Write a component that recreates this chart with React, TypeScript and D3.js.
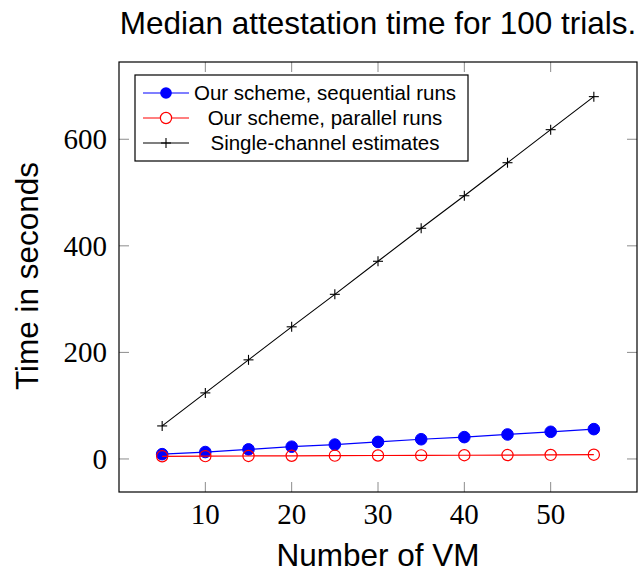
import React from "react";
import * as d3 from "d3";

const vms = [5, 10, 15, 20, 25, 30, 35, 40, 45, 50, 55];
const sequential = [9, 13, 18, 23, 27, 32, 37, 41, 46, 51, 56];
const parallel = [5, 5.3, 5.6, 5.9, 6.2, 6.5, 6.8, 7, 7.3, 7.6, 8];
const singleChannel = [62, 124, 186, 248, 309, 371, 433, 494, 556, 618, 680];
const xTicks = [10, 20, 30, 40, 50];
const yTicks = [0, 200, 400, 600];
const legendLabels = [
  "Our scheme, sequential runs",
  "Our scheme, parallel runs",
  "Single-channel estimates",
];
const title = "Median attestation time for 100 trials.";
const xLabel = "Number of VM";
const yLabel = "Time in seconds";

const W = 639;
const H = 574;
const L = 119, R = 637, T = 62, B = 492;

export default function App() {
  const x = d3.scaleLinear().domain([0, 60]).range([L, R]);
  const y = d3.scaleLinear().domain([-62, 745]).range([B, T]);
  const line = (vals: number[]) =>
    d3.line<number>().x((_, i) => x(vms[i])).y((v) => y(v))(vals) || "";

  const sans = "'Liberation Sans', Arial, Helvetica, sans-serif";
  const serif = "'Liberation Serif', 'Times New Roman', serif";
  const tickLen = 10;

  const plus = (cx: number, cy: number, k: string) => (
    <g key={k} stroke="black" strokeWidth={1.1}>
      <line x1={cx - 5} x2={cx + 5} y1={cy} y2={cy} />
      <line x1={cx} x2={cx} y1={cy - 5} y2={cy + 5} />
    </g>
  );

  const legendRows = [93, 118, 143];
  const lx1 = 143, lx2 = 189, lm = 166, textCx = 325;

  return (
    <svg width={W} height={H} style={{ position: "absolute", left: 0, top: 0, background: "white" }}>
      <rect x={0} y={0} width={W} height={H} fill="white" />
      <text x={(L + R) / 2} y={34} textAnchor="middle" fontFamily={sans} fontSize={31.5} fill="black">
        {title}
      </text>

      {/* ticks */}
      <g stroke="#8c8c8c" strokeWidth={1}>
        {xTicks.map((t) => (
          <g key={"xt" + t}>
            <line x1={x(t)} x2={x(t)} y1={B} y2={B - tickLen} />
            <line x1={x(t)} x2={x(t)} y1={T} y2={T + tickLen} />
          </g>
        ))}
        {yTicks.map((t) => (
          <g key={"yt" + t}>
            <line x1={L} x2={L + tickLen} y1={y(t)} y2={y(t)} />
            <line x1={R} x2={R - tickLen} y1={y(t)} y2={y(t)} />
          </g>
        ))}
      </g>

      {/* series */}
      <path d={line(sequential)} fill="none" stroke="blue" strokeWidth={1.2} />
      {sequential.map((v, i) => (
        <circle key={"s" + i} cx={x(vms[i])} cy={y(v)} r={5.8} fill="blue" stroke="blue" strokeWidth={1} />
      ))}
      <path d={line(parallel)} fill="none" stroke="red" strokeWidth={1.2} />
      {parallel.map((v, i) => (
        <circle key={"p" + i} cx={x(vms[i])} cy={y(v)} r={5.6} fill="none" stroke="red" strokeWidth={1.2} />
      ))}
      <path d={line(singleChannel)} fill="none" stroke="black" strokeWidth={1.1} />
      {singleChannel.map((v, i) => plus(x(vms[i]), y(v), "c" + i))}

      {/* frame */}
      <rect x={L} y={T} width={R - L} height={B - T} fill="none" stroke="black" strokeWidth={1.2} />

      {/* tick labels */}
      {xTicks.map((t) => (
        <text key={"xl" + t} x={x(t)} y={524} textAnchor="middle" fontFamily={serif} fontSize={29} fill="black">
          {t}
        </text>
      ))}
      {yTicks.map((t) => (
        <text key={"yl" + t} x={107} y={y(t)} dy="0.34em" textAnchor="end" fontFamily={serif} fontSize={29} fill="black">
          {t}
        </text>
      ))}

      {/* axis labels */}
      <text x={(L + R) / 2} y={566} textAnchor="middle" fontFamily={sans} fontSize={31.5} fill="black">
        {xLabel}
      </text>
      <text
        transform={`translate(38, 276) rotate(-90)`}
        textAnchor="middle"
        fontFamily={sans}
        fontSize={31.5}
        fill="black"
      >
        {yLabel}
      </text>

      {/* legend */}
      <rect x={135} y={75} width={333} height={86} fill="white" stroke="black" strokeWidth={1.2} />
      <line x1={lx1} x2={lx2} y1={legendRows[0]} y2={legendRows[0]} stroke="blue" strokeWidth={1.2} />
      <circle cx={lm} cy={legendRows[0]} r={5.8} fill="blue" />
      <line x1={lx1} x2={lx2} y1={legendRows[1]} y2={legendRows[1]} stroke="red" strokeWidth={1.2} />
      <circle cx={lm} cy={legendRows[1]} r={5.6} fill="white" stroke="red" strokeWidth={1.2} />
      <line x1={lx1} x2={lx2} y1={legendRows[2]} y2={legendRows[2]} stroke="black" strokeWidth={1.1} />
      {plus(lm, legendRows[2], "lp")}
      {legendLabels.map((s, i) => (
        <text key={"lg" + i} x={textCx} y={legendRows[i]} dy="0.36em" textAnchor="middle" fontFamily={sans} fontSize={20.5} fill="black">
          {s}
        </text>
      ))}
    </svg>
  );
}
